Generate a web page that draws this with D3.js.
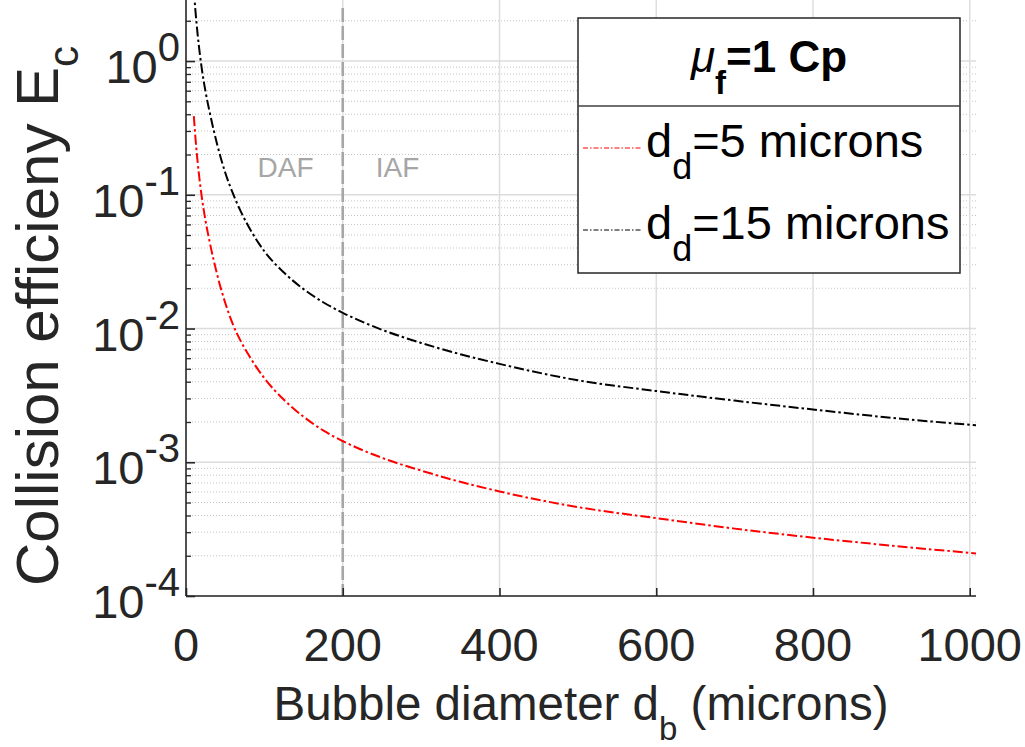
<!DOCTYPE html>
<html><head><meta charset="utf-8">
<script src="https://cdn.jsdelivr.net/npm/d3@7"></script>
<style>
body{margin:0;background:#fff}
svg{display:block}
text{font-family:"Liberation Sans",Arial,Helvetica,sans-serif}
</style>
</head><body>
<svg id="chart" width="1025" height="747"></svg>
<script>
// ---------------- data ----------------
const xTicks = [0, 200, 400, 600, 800, 1000];
const yTickExponents = [0, -1, -2, -3, -4];

// bubble diameters (microns) at which the curves were read
const diameters = [10, 12, 15, 20, 25, 30, 40, 50, 60, 70, 80, 100, 125, 150, 175, 200, 250, 300, 350, 400, 500, 600, 700, 800, 900, 1008];

// d_d = 5 microns (red)
const d5Efficiency = [0.3875, 0.2691, 0.1722, 0.0975, 0.0636, 0.045, 0.025, 0.0156, 0.01069, 0.00801, 0.00633, 0.00425, 0.00293, 0.00219, 0.00173, 0.00144, 0.00108, 0.000867, 0.000714, 0.000605, 0.000462, 0.000382, 0.000319, 0.000273, 0.000238, 0.000208];

// d_d = 15 microns (black)
const d15Efficiency = [3.42, 2.39, 1.55, 0.889, 0.587, 0.42, 0.235, 0.1467, 0.1019, 0.0748, 0.0577, 0.0378, 0.0262, 0.0197, 0.01572, 0.01311, 0.00979, 0.0078, 0.00643, 0.00544, 0.0041, 0.00341, 0.00289, 0.00248, 0.00215, 0.00189];

const seriesNames = ["5", "15"];
const seriesColors = ["#ff0000", "#000000"];
const regionBoundary = 200;
const regionLabels = ["DAF", "IAF"];
const regionLabelX = [127, 270];

// ---------------- layout ----------------
const svg = d3.select("#chart");
const L = 186, R = 976, T = 0, B = 596;
const x = d3.scaleLinear().domain([0, 1008]).range([L, R]);
const y = d3.scaleLog().domain([1e-4, 2.86]).range([B, T]);
const axisColor = "#262626";

svg.append("defs").append("clipPath").attr("id", "clip")
  .append("rect").attr("x", L).attr("y", T).attr("width", R - L).attr("height", B - T);

// minor grid (dotted)
const minorVals = [];
for (let k = -4; k <= 0; k++) for (let m = 2; m <= 9; m++) {
  const v = m * Math.pow(10, k);
  if (v <= y.domain()[1]) minorVals.push(v);
}
const grid = svg.append("g");
grid.selectAll("line.minor").data(minorVals).join("line")
  .attr("x1", L).attr("x2", R).attr("y1", d => y(d)).attr("y2", d => y(d))
  .attr("stroke", "#c4c4c4").attr("stroke-width", 1).attr("stroke-dasharray", "1,2");
// major grid
const majorVals = yTickExponents.map(e => Math.pow(10, e));
grid.selectAll("line.major").data(majorVals).join("line")
  .attr("x1", L).attr("x2", R).attr("y1", d => y(d)).attr("y2", d => y(d))
  .attr("stroke", "#dcdcdc").attr("stroke-width", 1.4);
grid.selectAll("line.vx").data(xTicks.filter(d => d > 0)).join("line")
  .attr("x1", d => x(d)).attr("x2", d => x(d)).attr("y1", T).attr("y2", B)
  .attr("stroke", "#dcdcdc").attr("stroke-width", 1.4);

// region boundary
svg.append("line")
  .attr("x1", x(regionBoundary)).attr("x2", x(regionBoundary)).attr("y1", 8).attr("y2", B)
  .attr("stroke", "#a6a6a6").attr("stroke-width", 2.6).attr("stroke-dasharray", "14,4");
svg.selectAll("text.region").data(regionLabels).join("text")
  .attr("x", (d, i) => x(regionLabelX[i])).attr("y", 177)
  .attr("text-anchor", "middle").attr("font-size", 28).attr("fill", "#a6a6a6")
  .text(d => d);

// curves
const line = d3.line().x(d => x(d[0])).y(d => y(d[1])).curve(d3.curveMonotoneX);
const series = [
  diameters.map((d, i) => [d, d5Efficiency[i]]),
  diameters.map((d, i) => [d, d15Efficiency[i]])
];
svg.append("g").attr("clip-path", "url(#clip)")
  .selectAll("path").data(series).join("path")
  .attr("d", line).attr("fill", "none")
  .attr("stroke", (d, i) => seriesColors[i]).attr("stroke-width", 2)
  .attr("stroke-dasharray", "10,3,2.5,3");

// axes
const xAxis = d3.axisBottom(x).tickValues(xTicks).tickSize(-8).tickFormat("");
svg.append("g").attr("transform", `translate(0,${B})`).call(xAxis)
  .call(g => { g.select(".domain").attr("stroke", axisColor).attr("stroke-width", 1.6).attr("d", `M${L},0H${R}`);
               g.selectAll(".tick line").attr("stroke", axisColor).attr("stroke-width", 1.6); });
const yAxis = d3.axisLeft(y).tickValues(majorVals).tickSize(-9).tickFormat("");
svg.append("g").attr("transform", `translate(${L},0)`).call(yAxis)
  .call(g => { g.select(".domain").attr("stroke", axisColor).attr("stroke-width", 1.6).attr("d", `M0,${T}V${B}`);
               g.selectAll(".tick line").attr("stroke", axisColor).attr("stroke-width", 1.6); });
const yMinor = d3.axisLeft(y).tickValues(minorVals).tickSize(-5).tickFormat("");
svg.append("g").attr("transform", `translate(${L},0)`).call(yMinor)
  .call(g => { g.select(".domain").remove();
               g.selectAll(".tick line").attr("stroke", axisColor).attr("stroke-width", 1.3); });

// tick labels
svg.selectAll("text.xt").data(xTicks).join("text")
  .attr("x", d => x(d)).attr("y", 661).attr("text-anchor", "middle")
  .attr("font-size", 47).attr("fill", axisColor).text(d => d);
const yl = svg.selectAll("text.yt").data(yTickExponents).join("text")
  .attr("x", 180).attr("y", d => y(Math.pow(10, d)) + 22).attr("text-anchor", "end")
  .attr("font-size", 47).attr("fill", axisColor);
yl.append("tspan").text("10");
yl.append("tspan").attr("dy", -22).attr("font-size", 40).text(d => d);

// axis titles
const xt = svg.append("text").attr("x", (L + R) / 2).attr("y", 720).attr("text-anchor", "middle")
  .attr("font-size", 47.5).attr("fill", axisColor);
xt.append("tspan").text("Bubble diameter d");
xt.append("tspan").attr("dy", 20).attr("font-size", 33).text("b");
xt.append("tspan").attr("dy", -20).text(" (microns)");

const yt = svg.append("text").attr("transform", `translate(58,316) rotate(-90)`)
  .attr("text-anchor", "middle").attr("font-size", 60).attr("fill", axisColor);
yt.append("tspan").text("Collision efficieny E");
yt.append("tspan").attr("dy", 20).attr("font-size", 42).text("c");

// legend
const lg = svg.append("g");
lg.append("rect").attr("x", 578).attr("y", 18).attr("width", 382).attr("height", 255)
  .attr("fill", "#fff").attr("stroke", "#262626").attr("stroke-width", 1.5);
lg.append("line").attr("x1", 578).attr("x2", 960).attr("y1", 106).attr("y2", 106)
  .attr("stroke", "#404040").attr("stroke-width", 1.5);
const tt = lg.append("text").attr("x", 769).attr("y", 72).attr("text-anchor", "middle")
  .attr("font-size", 44).attr("fill", "#000");
tt.append("tspan").attr("font-style", "italic").text("\u03bc");
tt.append("tspan").attr("dy", 22).attr("font-size", 33).attr("font-weight", "bold").text("f");
tt.append("tspan").attr("dy", -22).attr("font-weight", "bold").text("=1 Cp");

const rowY = [148, 230];
seriesNames.forEach((s, i) => {
  lg.append("line").attr("x1", 583).attr("x2", 641).attr("y1", rowY[i]).attr("y2", rowY[i])
    .attr("stroke", seriesColors[i]).attr("stroke-width", 1.2).attr("stroke-dasharray", "5,2,1.5,2");
  const t = lg.append("text").attr("x", 646).attr("y", rowY[i] + 9).attr("font-size", 47).attr("fill", "#000");
  t.append("tspan").text("d");
  t.append("tspan").attr("dy", 22).attr("font-size", 36).text("d");
  t.append("tspan").attr("dy", -22).text("=" + s + " microns");
});
</script>
</body></html>
